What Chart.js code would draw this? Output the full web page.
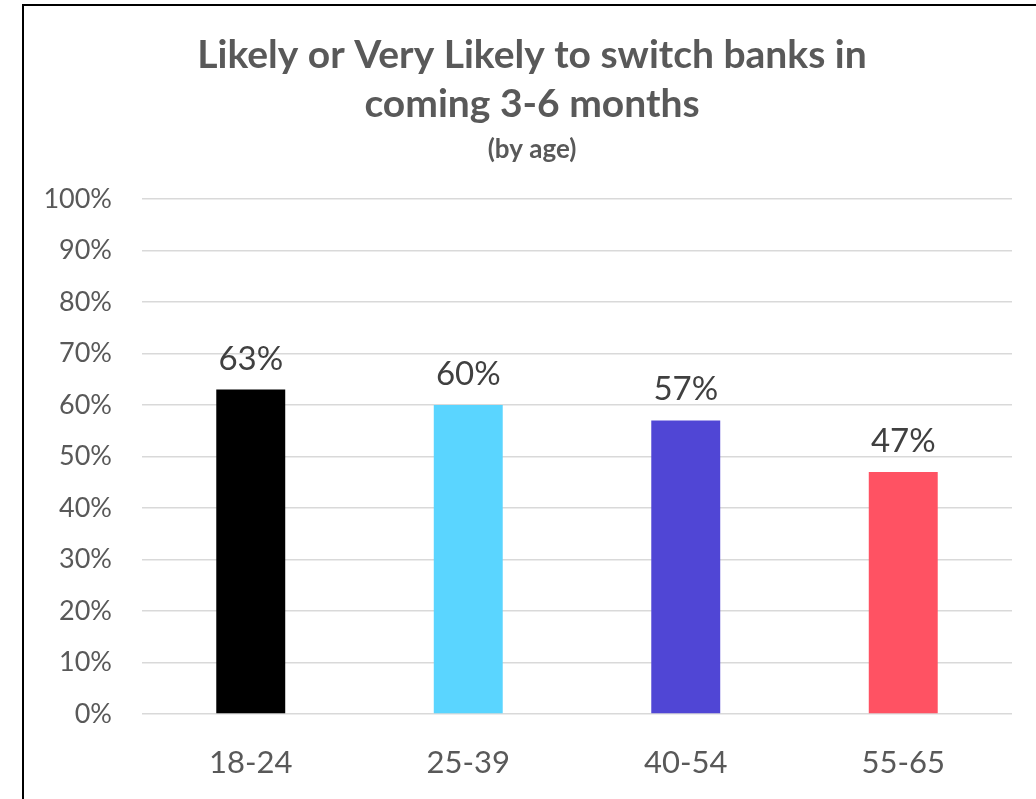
<!DOCTYPE html>
<html>
<head>
<meta charset="utf-8">
<script src="https://cdn.jsdelivr.net/npm/chart.js@4.4.0/dist/chart.umd.min.js"></script>
<style>
  html, body { margin: 0; padding: 0; background: #fff; overflow: hidden; }
  #frame {
    position: absolute; left: 22px; top: 4px; width: 1030px; height: 810px;
    border-left: 2px solid #000; border-top: 2px solid #000;
  }
  #wrap { position: absolute; left: 23px; top: 5px; width: 1018px; height: 794px; }
</style>
</head>
<body>
<div id="frame"></div>
<div id="wrap"><canvas id="chart"></canvas></div>
<script>
const ageGroups = ["18-24", "25-39", "40-54", "55-65"];
const likelyPct = [63, 60, 57, 47];
const barColors = ["#000000", "#5AD5FF", "#5046D5", "#FF5263"];
const titleLines = ["Likely or Very Likely to switch banks in", "coming 3-6 months"];
const subtitleText = "(by age)";

const FONT = "Lato, 'Open Sans', sans-serif";
const RIGHT_PAD = 29;

// center title + subtitle on the whole canvas, not the padded box
const wideTitles = {
  id: "wideTitles",
  afterLayout(chart) {
    chart.boxes.forEach((box) => {
      if (box.position !== "top" || !box.options || box.options.text === undefined) return;
      box.right += RIGHT_PAD;
      box.width += RIGHT_PAD;
    });
  },
};

// value labels above each bar
const barLabels = {
  id: "barLabels",
  afterDatasetsDraw(chart) {
    const ctx = chart.ctx;
    const meta = chart.getDatasetMeta(0);
    ctx.save();
    ctx.font = "33px " + FONT;
    ctx.fillStyle = "#404040";
    ctx.textAlign = "center";
    ctx.textBaseline = "alphabetic";
    meta.data.forEach((bar, i) => {
      ctx.fillText(likelyPct[i] + "%", bar.x, bar.y - 20);
    });
    ctx.restore();
  },
};

new Chart(document.getElementById("chart").getContext("2d"), {
  type: "bar",
  data: {
    labels: ageGroups,
    datasets: [
      {
        data: likelyPct,
        backgroundColor: barColors,
        categoryPercentage: 1,
        barPercentage: 0.317,
      },
    ],
  },
  options: {
    responsive: true,
    maintainAspectRatio: false,
    animation: false,
    layout: { padding: { left: 0, right: RIGHT_PAD, top: 0, bottom: 0 } },
    plugins: {
      legend: { display: false },
      tooltip: { enabled: false },
      title: {
        display: true,
        text: titleLines,
        color: "#595959",
        font: { family: FONT, size: 39, weight: "bold", lineHeight: 1.28 },
        padding: { top: 25, bottom: 0 },
      },
      subtitle: {
        display: true,
        text: subtitleText,
        color: "#595959",
        font: { family: FONT, size: 26, weight: "bold", lineHeight: 1.2 },
        padding: { top: 4, bottom: 34 },
      },
    },
    scales: {
      x: {
        grid: { display: false },
        border: { display: false },
        ticks: { color: "#595959", font: { family: FONT, size: 31 }, padding: 22 },
        afterFit(scale) { scale.height = 85; },
      },
      y: {
        min: 0,
        max: 100,
        grid: { color: "#d9d9d9", lineWidth: 1.5, drawTicks: false },
        border: { display: false },
        ticks: {
          stepSize: 10,
          color: "#595959",
          font: { family: FONT, size: 27 },
          padding: 30,
          callback: (v) => v + "%",
        },
        afterFit(scale) { scale.width = 119; },
      },
    },
  },
  plugins: [wideTitles, barLabels],
});
</script>
</body>
</html>
